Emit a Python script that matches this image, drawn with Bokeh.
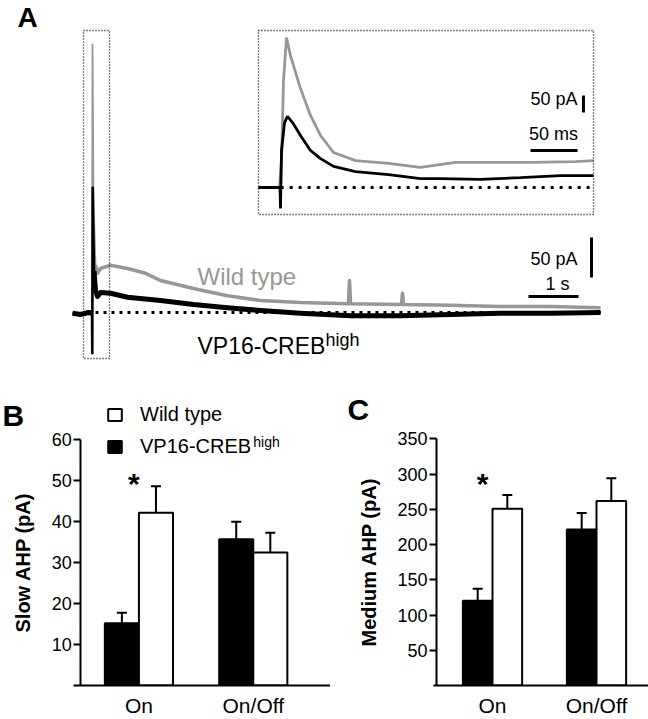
from bokeh.plotting import figure
from bokeh.models import (Range1d, FixedTicker, Whisker, TeeHead, ColumnDataSource,
                          Legend, LegendItem, Label)
from bokeh.layouts import column, row
from bokeh.embed import file_html
from bokeh.resources import INLINE

FONT = "Liberation Sans"
GRAY = "#979797"

# ---------------- Panel A: slow AHP traces (time in s, current in pA) ----------------
wt_t = [-0.01, 0.0, 0.02, 0.06, 0.10, 0.16, 0.36, 0.70, 1.06, 1.36, 2.02, 2.70, 3.36,
        4.16, 5.12, 5.14, 5.16, 6.18, 6.20, 6.22, 7.16, 8.16, 9.16, 10.16]
wt_i = [-1, 336, 140, 59, 49, 55, 59, 55, 49, 40, 30, 21, 15,
        12.5, 11, 40, 11, 10, 24, 10, 9, 7.5, 7.5, 6]
vp_t = [-0.40, -0.24, -0.08, -0.01, -0.004, 0.004, 0.03, 0.06, 0.10, 0.16, 0.36, 0.70,
        1.36, 2.02, 2.70, 3.36, 4.16, 5.16, 6.16, 7.16, 8.16, 9.16, 10.16]
vp_i = [-1, -2.5, 0, -1, -51, 156, 52, 27.5, 20, 25, 24, 19,
        15, 10, 6, 2.5, -1, -4, -4, -2.5, -1, -1, 0]

# Inset: medium AHP (time in ms, current in pA)
ins_wt_ms = [-23.4, -1.1, 1.1, 3.2, 6.4, 10.6, 21.3, 31.9, 42.6, 56.4, 79.8, 114.9,
             148.9, 186.2, 223.4, 266.0, 313.8, 333.0]
ins_wt_pa = [0, 0, 79, 315, 441, 388, 291, 212, 153, 103, 79, 71,
             59, 74, 74, 74, 76, 79]
ins_vp_ms = [-23.4, -0.5, 0.0, 1.1, 4.3, 7.4, 12.8, 21.3, 31.9, 42.6, 56.4, 79.8,
             114.9, 148.9, 170.2, 212.8, 255.3, 297.9, 333.0]
ins_vp_pa = [0, 0, -62, 109, 191, 209, 191, 153, 109, 85, 62, 47,
             38, 26, 26, 24, 29, 35, 35]

# ---------------- Panels B and C: bar data ----------------
conditions = ["On", "On/Off"]
slow_vp = [15.2, 35.7]
slow_vp_err = [2.6, 4.3]
slow_wt = [42.2, 32.5]
slow_wt_err = [6.5, 4.8]
med_vp = [120.4, 221.3]
med_vp_err = [16.8, 23.7]
med_wt = [250.7, 261.9]
med_wt_err = [19.6, 32.1]
slow_ticks = [10, 20, 30, 40, 50, 60]
med_ticks = [50, 100, 150, 200, 250, 300, 350]

# ================= Panel A =================
pa = figure(width=648, height=365, x_range=Range1d(-1.84, 11.12), y_range=Range1d(-66.25, 390),
            output_backend="svg", toolbar_location=None, min_border=0,
            x_axis_type=None, y_axis_type=None)
pa.outline_line_color = None
pa.extra_x_ranges = {"ins": Range1d(-297.87, 391.49)}
pa.extra_y_ranges = {"ins": Range1d(-523.5, 550.0)}

# dotted zero baselines
pa.line([0.06, vp_t[-1]], [0, 0], line_color="black", line_width=3, line_dash="3 5")
pa.line([-19, ins_vp_ms[-1] - 3], [0, 0], line_color="black", line_width=3, line_dash="3 6",
        x_range_name="ins", y_range_name="ins")

# main traces: thin through the spike, thicker (noise band) elsewhere
pa.line(wt_t, wt_i, line_color=GRAY, line_width=1.8)
k = next(i for i, t in enumerate(wt_t) if t >= 0.06)
pa.line(wt_t[k:], wt_i[k:], line_color=GRAY, line_width=3.6, line_join="round")
pa.line(vp_t, vp_i, line_color="black", line_width=2.6, line_join="round")
k0 = next(i for i, t in enumerate(vp_t) if t > -0.005)
k1 = next(i for i, t in enumerate(vp_t) if t >= 0.06)
pa.line(vp_t[:k0], vp_i[:k0], line_color="black", line_width=5, line_join="round")
pa.line(vp_t[k1 - 1:], vp_i[k1 - 1:], line_color="black", line_width=5, line_join="round")

# inset traces
pa.line(ins_wt_ms, ins_wt_pa, line_color=GRAY, line_width=2.8,
        x_range_name="ins", y_range_name="ins")
pa.line(ins_vp_ms, ins_vp_pa, line_color="black", line_width=2.8,
        x_range_name="ins", y_range_name="ins")

# dotted boxes (spike region and inset frame)
pa.quad(left=[-0.18], right=[0.34], top=[352.5], bottom=[-57.5], fill_color=None,
        line_color="black", line_width=1.3, line_dash="1 2")
pa.quad(left=[-23.4], right=[333.0], top=[461.8], bottom=[-79.4], fill_color=None,
        line_color="black", line_width=1.3, line_dash="1 2",
        x_range_name="ins", y_range_name="ins")

# scale bars main (1 s, 50 pA)
SB_T, SB_I = 1.0, 50
pa.line([8.72, 8.72 + SB_T], [20, 20], line_color="black", line_width=3)
pa.line([9.98, 9.98], [43.75, 43.75 + SB_I], line_color="black", line_width=3)
# scale bars inset (50 ms, 50 pA)
SB_MS, SB_PA = 50, 50
pa.line([266, 266 + SB_MS], [108.8, 108.8], line_color="black", line_width=3,
        x_range_name="ins", y_range_name="ins")
pa.line([322.3, 322.3], [220.6, 220.6 + SB_PA], line_color="black", line_width=3,
        x_range_name="ins", y_range_name="ins")


def lab(p, x, y, text, size, color="black", align="left", style="normal", **kw):
    p.add_layout(Label(x=x, y=y, text=text, text_font=FONT, text_font_size=size,
                       text_color=color, text_align=align, text_baseline="middle",
                       text_font_style=style, **kw))


lab(pa, -1.5, 368.75, "A", "28px", style="bold")
lab(pa, 2.1, 44.4, "Wild type", "24px", color=GRAY)
lab(pa, 2.1, -42.2, "VP16-CREB", "23px")
lab(pa, 4.66, -34.0, "high", "18px")
lab(pa, 9.70, 67.5, "50 pA", "18px", align="right")
lab(pa, 9.30, 35.6, "1 s", "18px", align="center")
lab(pa, 316, 260.3, "50 pA", "18px", align="right", x_range_name="ins", y_range_name="ins")
lab(pa, 290.4, 157.4, "50 ms", "18px", align="center", x_range_name="ins", y_range_name="ins")


# ================= Panels B and C =================
def bar_panel(width, xr, yr, axis_x, xaxis_start, ticks, ylabel, vp, vp_err, wt, wt_err, bar_w):
    p = figure(width=width, height=354, x_range=Range1d(*xr), y_range=Range1d(*yr),
               output_backend="svg", toolbar_location=None,
               min_border_left=0, min_border_right=0,
               min_border_top=30, min_border_bottom=30)
    p.outline_line_color = None
    p.grid.visible = False
    idx = [i + 1 for i in range(len(conditions))]
    x_vp = [i - bar_w / 2 for i in idx]
    x_wt = [i + bar_w / 2 for i in idx]
    src = ColumnDataSource(dict(
        x=x_vp + x_wt,
        val=vp + wt,
        upper=[v + e for v, e in zip(vp, vp_err)] + [v + e for v, e in zip(wt, wt_err)],
    ))
    p.add_layout(Whisker(source=src, base="x", lower="val", upper="upper", dimension="height",
                         line_width=2, line_color="black",
                         upper_head=TeeHead(size=10, line_width=2, line_color="black"),
                         lower_head=None))
    r_vp = p.vbar(x=x_vp, top=vp, bottom=0, width=bar_w, fill_color="black",
                  line_color="black", line_width=2)
    r_wt = p.vbar(x=x_wt, top=wt, bottom=0, width=bar_w, fill_color="white",
                  line_color="black", line_width=2)

    yax = p.yaxis[0]
    yax.fixed_location = axis_x
    yax.ticker = FixedTicker(ticks=ticks)
    yax.bounds = (0, ticks[-1])
    yax.axis_line_width = 2
    yax.major_tick_line_width = 2
    yax.major_tick_out = 7
    yax.major_tick_in = 0
    yax.minor_tick_line_color = None
    yax.major_label_standoff = 2
    yax.major_label_text_font = FONT
    yax.major_label_text_font_size = "18px"
    yax.major_label_text_color = "black"
    yax.axis_label = ylabel
    yax.axis_label_text_font = FONT
    yax.axis_label_text_font_size = "20px"
    yax.axis_label_text_font_style = "bold"
    yax.axis_label_text_color = "black"
    yax.axis_label_standoff = 14

    xax = p.xaxis[0]
    xax.ticker = FixedTicker(ticks=idx)
    xax.bounds = (xaxis_start, xr[1])
    xax.major_label_overrides = {i: c for i, c in zip(idx, conditions)}
    xax.axis_line_width = 2
    xax.major_tick_out = 0
    xax.major_tick_in = 0
    xax.minor_tick_line_color = None
    xax.major_label_standoff = 8
    xax.major_label_text_font = FONT
    xax.major_label_text_font_size = "21px"
    xax.major_label_text_color = "black"
    return p, r_vp, r_wt


pb, rb_vp, rb_wt = bar_panel(330, (-0.2105, 2.6754), (0, 70.84), 0.4912, 0.4298, slow_ticks,
                             "Slow AHP (pA)", slow_vp, slow_vp_err, slow_wt, slow_wt_err, 0.298)
pc, rc_vp, rc_wt = bar_panel(318, (-0.5577, 2.5), (0, 411.6), 0.4615, 0.4327, med_ticks,
                             "Medium AHP (pA)", med_vp, med_vp_err, med_wt, med_wt_err, 0.285)

legend = Legend(items=[LegendItem(label="Wild type", renderers=[rb_wt]),
                       LegendItem(label="VP16-CREB", renderers=[rb_vp])],
                location=(106, 227), border_line_color=None, background_fill_alpha=0,
                padding=0, margin=0, spacing=8, glyph_width=17, glyph_height=15,
                label_standoff=17, label_height=24, label_text_font=FONT,
                label_text_font_size="20px", label_text_color="black")
pb.add_layout(legend)
lab(pb, 2.0, 59.5, "high", "14px")

lab(pb, -0.193, 66.0, "B", "30px", style="bold")
lab(pc, -0.3942, 392.0, "C", "30px", style="bold")
lab(pb, 0.956, 49.3, "*", "30px", align="center", style="bold")
lab(pc, 0.904, 286.3, "*", "30px", align="center", style="bold")

layout = column(pa, row(pb, pc))
open("out.html", "w").write(file_html(layout, INLINE))
